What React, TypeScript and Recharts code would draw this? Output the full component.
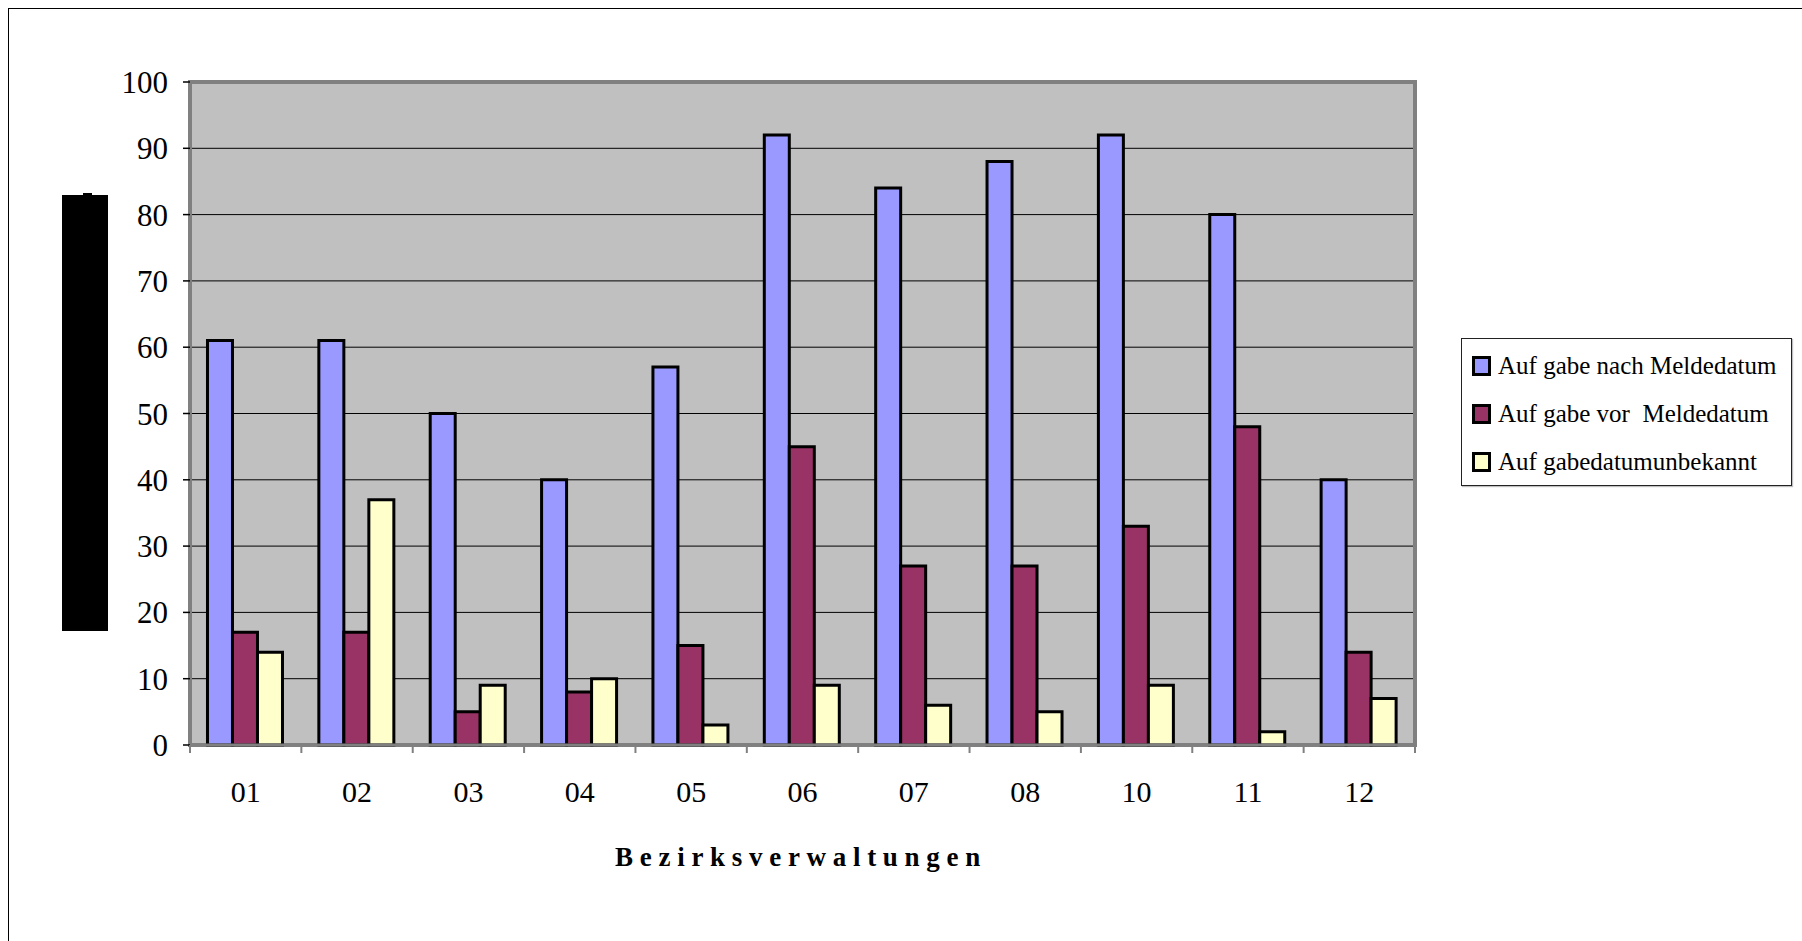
import React from "react";
import {
  BarChart,
  Bar,
  XAxis,
  YAxis,
  CartesianGrid,
  ReferenceArea,
  Label,
} from "recharts";

const bezirke = ["01", "02", "03", "04", "05", "06", "07", "08", "10", "11", "12"];
const nachMeldedatum = [61, 61, 50, 40, 57, 92, 84, 88, 92, 80, 40];
const vorMeldedatum = [17, 17, 5, 8, 15, 45, 27, 27, 33, 48, 14];
const datumUnbekannt = [14, 37, 9, 10, 3, 9, 6, 5, 9, 2, 7];
const yTicks = [0, 10, 20, 30, 40, 50, 60, 70, 80, 90, 100];

const seriesKeys = ["nach", "vor", "unbekannt"];
const seriesNames = [
  "Auf gabe nach Meldedatum",
  "Auf gabe vor  Meldedatum",
  "Auf gabedatumunbekannt",
];
const seriesColors = ["#9999FF", "#993366", "#FFFFCC"];

const data = bezirke.map((b, i) => ({
  bezirk: b,
  nach: nachMeldedatum[i],
  vor: vorMeldedatum[i],
  unbekannt: datumUnbekannt[i],
}));

const W = 1802;
const H = 941;
const margin = { top: 82, right: 387, bottom: 136, left: 0 };
const Y_W = 190;
const X_H = 60;
const plotBottom = H - margin.bottom - X_H;
const halfBand = (W - margin.left - Y_W - margin.right) / bezirke.length / 2;
const FONT = "'Liberation Serif', 'Times New Roman', serif";

function CategoryTick(props: any) {
  const { x, y, payload, index } = props;
  return (
    <g>
      <line x1={x - halfBand} x2={x - halfBand} y1={plotBottom} y2={plotBottom + 8} stroke="#808080" strokeWidth={2} />
      {index === bezirke.length - 1 && (
        <line x1={x + halfBand} x2={x + halfBand} y1={plotBottom} y2={plotBottom + 8} stroke="#808080" strokeWidth={2} />
      )}
      <text x={x} y={y} dy="0.71em" textAnchor="middle" fontSize={30} fontFamily={FONT} fill="#000">
        {payload.value}
      </text>
    </g>
  );
}

function AxisTitle(props: any) {
  const { viewBox } = props;
  const cx = viewBox.x + viewBox.width / 2 - 1.5;
  return (
    <text
      x={cx}
      y={viewBox.y + 121}
      textAnchor="middle"
      fontSize={27}
      fontWeight="bold"
      fontFamily={FONT}
      letterSpacing={6.7}
      fill="#000"
    >
      Bezirksverwaltungen
    </text>
  );
}

export default function App() {
  return (
    <div style={{ position: "relative", width: W, height: H, overflow: "hidden", background: "#fff" }}>
      <style>{"body{margin:0;}"}</style>
      <div
        style={{
          position: "absolute",
          left: 8,
          top: 8,
          width: W,
          height: H,
          border: "1.5px solid #000",
        }}
      />
      <div style={{ position: "absolute", left: 62, top: 195, width: 46, height: 436, background: "#000" }} />
      <div style={{ position: "absolute", left: 83, top: 193, width: 9, height: 2, background: "#000" }} />
      <div style={{ position: "absolute", left: 0, top: 0 }}>
        <BarChart
          width={W}
          height={H}
          data={data}
          margin={margin}
          barCategoryGap="15.7%"
          barGap={0}
        >
          <CartesianGrid vertical={false} stroke="#000" strokeWidth={1} fill="#C0C0C0" />
          <XAxis
            dataKey="bezirk"
            height={X_H}
            tickLine={false}
            axisLine={{ stroke: "#808080", strokeWidth: 3 }}
            tickSize={8}
            tickMargin={28}
            tick={<CategoryTick />}
            interval={0}
          >
            <Label content={<AxisTitle />} />
          </XAxis>
          <YAxis
            width={Y_W}
            domain={[0, 100]}
            ticks={yTicks}
            interval={0}
            tickSize={7}
            tickMargin={15}
            tickLine={{ stroke: "#000", strokeWidth: 1.5 }}
            axisLine={{ stroke: "#808080", strokeWidth: 3 }}
            tick={{ fill: "#000", fontSize: 31, fontFamily: FONT }}
          />
          {seriesKeys.map((k, i) => (
            <Bar
              key={k}
              dataKey={k}
              name={seriesNames[i]}
              fill={seriesColors[i]}
              stroke="#000"
              strokeWidth={3}
              isAnimationActive={false}
            />
          ))}
          <ReferenceArea y1={0} y2={100} fill="none" stroke="#808080" strokeWidth={4} ifOverflow="visible" />
        </BarChart>
      </div>
      <div
        style={{
          position: "absolute",
          left: 1461,
          top: 338,
          width: 331,
          height: 148,
          boxSizing: "border-box",
          border: "1px solid #222",
          background: "#fff",
          boxShadow: "1px 1px 1px rgba(0,0,0,0.25)",
          paddingTop: 3,
          fontFamily: FONT,
          fontSize: 25,
          color: "#000",
        }}
      >
        {seriesNames.map((n, i) => (
          <div key={n} style={{ height: 48, lineHeight: "48px", display: "flex", alignItems: "center", whiteSpace: "pre" }}>
            <span
              style={{
                display: "inline-block",
                boxSizing: "border-box",
                width: 19,
                height: 20,
                marginLeft: 10,
                marginRight: 7,
                border: "3px solid #000",
                background: seriesColors[i],
              }}
            />
            <span>{n}</span>
          </div>
        ))}
      </div>
    </div>
  );
}
